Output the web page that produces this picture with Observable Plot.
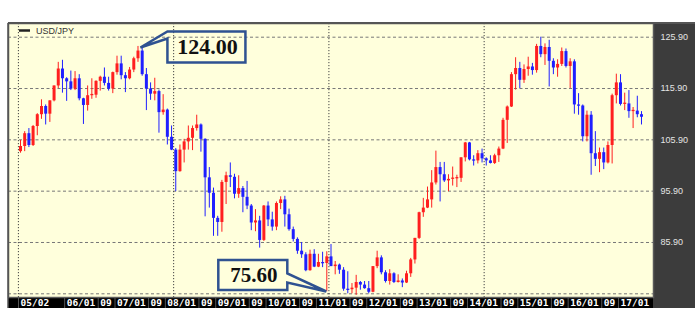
<!DOCTYPE html>
<html><head><meta charset="utf-8">
<script src="https://cdn.jsdelivr.net/npm/d3@7"></script>
<script src="https://cdn.jsdelivr.net/npm/@observablehq/plot@0.6"></script>
<style>
html,body{margin:0;padding:0;background:#fff;}
#chart{position:relative;width:700px;height:335px;}
</style></head><body><div id="chart"></div>
<script>
// Monthly USD/JPY candles, Feb 2005 (index 0) .. Jun 2017 (index 148)
const open = [
 103.6,104.6,107.1,104.8,108.5,110.8,112.4,110.9,113.5,116.4,119.7,
 117.8,117.2,115.8,117.8,113.9,112.6,114.5,114.6,117.3,118.1,116.9,115.8,
 119.0,120.7,118.4,117.8,119.5,121.7,123.2,118.6,115.8,114.8,115.3,111.2,
 111.7,106.4,103.9,99.7,103.9,105.5,106.2,108.1,108.8,106.0,98.5,95.5,
 90.6,89.8,97.6,98.9,98.6,95.3,96.4,94.7,93.0,89.7,90.1,86.3,
 93.0,90.3,88.9,93.5,94.2,91.3,88.4,86.5,84.2,83.5,80.4,83.6,
 81.1,82.0,81.8,83.1,81.2,81.5,80.5,76.8,76.7,77.0,78.1,77.6,
 76.9,76.2,81.2,82.9,80.0,78.3,79.8,78.1,78.4,78.0,79.8,82.5,
 86.7,91.7,92.6,94.2,97.5,100.5,99.1,97.9,98.2,98.3,98.4,102.4,
 105.3,102.0,101.8,103.2,102.2,101.8,101.3,102.8,104.1,109.7,112.3,118.6,
 119.8,117.5,119.6,120.1,119.4,124.1,122.5,123.9,121.2,119.9,120.6,123.1,
 120.2,121.1,112.7,112.5,106.5,110.7,103.2,102.1,103.4,101.4,104.8,114.5,
 117.0,112.8,112.9,111.4,111.5,110.8];
const high = [
 105.8,107.5,108.1,108.7,111.0,113.7,112.7,113.5,116.4,121.0,121.4,
 118.0,119.3,119.2,118.6,114.0,116.4,117.8,117.4,118.3,119.9,118.1,119.1,
 122.2,122.2,119.0,120.0,122.0,124.1,123.7,119.8,117.0,117.9,115.6,114.7,
 111.9,108.6,104.2,104.9,106.0,108.6,108.6,110.7,109.0,106.1,100.5,96.5,
 91.0,98.0,99.6,101.4,99.2,98.9,96.8,97.8,93.3,92.3,91.0,93.1,
 93.8,91.8,93.8,94.8,94.9,92.4,88.9,86.8,85.9,83.9,84.4,84.5,
 83.6,84.0,84.1,85.5,82.2,81.7,81.0,80.2,77.9,79.5,78.3,78.3,
 78.3,81.2,84.2,83.3,80.4,80.6,80.0,79.6,78.8,80.3,82.8,86.7,
 91.8,94.5,96.7,99.9,103.7,101.5,101.5,99.1,100.6,99.0,102.4,105.4,
 105.4,102.8,103.8,104.1,102.4,102.8,103.1,104.5,110.1,112.5,119.0,121.9,
 121.0,120.5,122.0,120.8,124.5,125.9,124.6,125.3,121.7,121.5,123.8,123.6,
 121.7,121.5,114.9,112.7,111.5,111.4,107.5,104.3,104.3,105.5,114.8,118.7,
 118.6,115.0,115.5,112.2,114.4,111.4];
const low = [
 103.3,103.6,104.4,104.6,106.7,109.9,108.8,109.3,113.3,115.9,115.0,
 113.4,115.5,115.5,113.5,108.9,111.5,113.8,114.0,115.4,116.4,115.4,114.9,
 118.5,117.6,115.1,117.6,119.0,121.0,118.3,111.6,113.6,113.5,107.2,110.7,
 104.9,103.8,95.8,99.6,101.4,103.9,103.8,107.6,103.5,90.9,92.6,87.1,
 87.1,87.9,93.3,96.6,94.4,94.5,91.7,92.3,88.2,88.0,84.8,86.1,
 89.0,88.1,88.2,92.3,88.9,88.1,86.0,83.6,82.8,80.2,80.3,81.0,
 81.0,81.0,76.3,81.2,79.6,79.7,76.4,75.9,75.9,75.6,76.6,76.8,
 75.9,76.1,80.8,79.6,78.0,77.6,77.9,78.0,77.1,77.9,79.1,81.7,
 86.5,90.8,92.5,92.6,97.1,93.8,97.6,95.8,96.9,96.6,97.6,101.6,
 101.8,100.8,101.2,101.4,100.8,101.2,101.1,101.5,104.0,105.2,112.2,115.6,
 115.9,116.9,118.3,118.5,118.9,121.9,120.4,116.2,118.6,118.1,120.2,119.9,
 115.9,110.9,110.7,105.5,105.5,99.0,100.7,99.5,100.1,101.2,101.2,112.9,
 112.5,111.6,110.1,108.1,110.2,108.8];
const close = [
 104.6,107.1,104.8,108.5,110.8,112.4,110.9,113.5,116.4,119.7,117.8,
 117.2,115.8,117.8,113.9,112.6,114.5,114.6,117.3,118.1,116.9,115.8,119.0,
 120.7,118.4,117.8,119.5,121.7,123.2,118.6,115.8,114.8,115.3,111.2,111.7,
 106.4,103.9,99.7,103.9,105.5,106.2,108.1,108.8,106.0,98.5,95.5,90.6,
 89.8,97.6,98.9,98.6,95.3,96.4,94.7,93.0,89.7,90.1,86.3,93.0,
 90.3,88.9,93.5,94.2,91.3,88.4,86.5,84.2,83.5,80.4,83.6,81.1,
 82.0,81.8,83.1,81.2,81.5,80.5,76.8,76.7,77.0,78.1,77.6,76.9,
 76.2,81.2,82.9,80.0,78.3,79.8,78.1,78.4,78.0,79.8,82.5,86.7,
 91.7,92.6,94.2,97.5,100.5,99.1,97.9,98.2,98.3,98.4,102.4,105.3,
 102.0,101.8,103.2,102.2,101.8,101.3,102.8,104.1,109.7,112.3,118.6,119.8,
 117.5,119.6,120.1,119.4,124.1,122.5,123.9,121.2,119.9,120.6,123.1,120.2,
 121.1,112.7,112.5,106.5,110.7,103.2,102.1,103.4,101.4,104.8,114.5,117.0,
 112.8,112.9,111.4,111.5,110.8,110.3];

const seriesName = "USD/JPY";
const yTicks = [125.9, 115.9, 105.9, 95.9, 85.9];
const yGrid = [125.9, 115.9, 105.9, 95.9, 85.9, 75.9];
const xTickMonths = [0, 11, 19, 23, 31, 35, 43, 47, 55, 59, 67, 71, 79, 83, 91, 95, 103, 107, 115, 119, 127, 131, 139, 143];
const xTickLabels = ["05/02","06/01","09","07/01","09","08/01","09","09/01","09","10/01","09","11/01","09","12/01","09","13/01","09","14/01","09","15/01","09","16/01","09","17/01"];
const xGrid = [-0.5, 36.5, 73.5, 110.5];
const callouts = [
  {m: 28.7, v: 123.8, label: "124.00", box: [27, 105, -16, 15], wedge: [-16, -9], side: "left", size: 22},
  {m: 73, v: 76.25, label: "75.60", box: [-108, -39, -31.5, -1.5], wedge: [-18, -9], side: "right", size: 21}
];

const W = 700, H = 335, ML = 8, MR = 47, MT = 23, MB = 38;
const RED = "#ff1f1f", BLUE = "#1f1fff";

const data = open.map((o, i) => ({m: i, open: o, high: high[i], low: low[i], close: close[i]}));
const isUp = d => d.close >= d.open;
const bodyEnd = d => Math.abs(d.close - d.open) < 0.25 ? d.open + (isUp(d) ? 0.25 : -0.25) : d.close;

const plot = Plot.plot({
  width: W, height: H,
  marginLeft: ML, marginRight: MR, marginTop: MT, marginBottom: MB,
  style: {fontFamily: "Liberation Sans, Arial, sans-serif", background: "transparent"},
  x: {type: "linear", domain: [-2.86, 150.86], axis: null},
  y: {domain: [75.18, 128.57], axis: null},
  marks: [
    Plot.frame({fill: "#ffffdc", stroke: null}),
    Plot.ruleY(yGrid, {stroke: "#777", strokeDasharray: "3,2.5", strokeWidth: 1}),
    Plot.ruleX(xGrid, {stroke: "#444", strokeDasharray: "1.2,1.8", strokeWidth: 1}),
    Plot.ruleX(data, {filter: isUp, x: "m", y1: "low", y2: "high", stroke: RED, strokeWidth: 1}),
    Plot.ruleX(data, {filter: d => !isUp(d), x: "m", y1: "low", y2: "high", stroke: BLUE, strokeWidth: 1}),
    Plot.ruleX(data, {filter: isUp, x: "m", y1: "open", y2: bodyEnd, stroke: RED, strokeWidth: 3}),
    Plot.ruleX(data, {filter: d => !isUp(d), x: "m", y1: "open", y2: bodyEnd, stroke: BLUE, strokeWidth: 3}),
    Plot.axisY({anchor: "right", ticks: yTicks, tickFormat: d => d.toFixed(2), tickSize: 0, tickPadding: 7,
      fill: "#e4e4e4", fontSize: 9, label: null}),
    Plot.axisX({anchor: "bottom", ticks: xTickMonths, tickSize: 11, stroke: "#555", dx: -2,
      tickFormat: () => "", label: null}),
    Plot.axisX({anchor: "bottom", ticks: xTickMonths, tickFormat: d => xTickLabels[xTickMonths.indexOf(d)],
      tickSize: 0, tickPadding: 2, textAnchor: "start", fill: "#fff", fontSize: 9.5, fontWeight: "bold",
      fontFamily: "DejaVu Sans Mono, monospace", label: null}),
    Plot.frame({stroke: "#5a5a5a", strokeWidth: 1.5, fill: null})
  ]
});

const svg = d3.select(plot);
const R = W - MR, B = H - MB, panelR = 695, stripB = 308;
// dark right panel & black date strip (behind everything)
svg.insert("rect", ":first-child").attr("x", ML).attr("y", B).attr("width", R - ML).attr("height", stripB - B).attr("fill", "#000");
svg.insert("rect", ":first-child").attr("x", R).attr("y", MT).attr("width", panelR - R).attr("height", stripB - MT).attr("fill", "#3c3c3c");
svg.append("line").attr("x1", ML).attr("x2", panelR).attr("y1", MT).attr("y2", MT).attr("stroke", "#555").attr("stroke-width", 2);
svg.append("line").attr("x1", ML).attr("x2", ML).attr("y1", MT).attr("y2", stripB).attr("stroke", "#555").attr("stroke-width", 1.5);

// legend
svg.append("line").attr("x1", ML + 11).attr("x2", ML + 22).attr("y1", MT + 7.5).attr("y2", MT + 7.5).attr("stroke", "#222").attr("stroke-width", 2.5);
svg.append("text").attr("x", ML + 28).attr("y", MT + 7.5).attr("dy", "0.35em").attr("font-size", 9)
  .attr("text-anchor", "start")
  .attr("font-family", "Liberation Sans, Arial, sans-serif").attr("fill", "#333").text(seriesName);

// callouts
const xs = plot.scale("x"), ys = plot.scale("y");
callouts.forEach(c => {
  const tx = xs.apply(c.m), ty = ys.apply(c.v);
  const [a1, a2, b1, b2] = c.box;
  const x1 = tx + a1, x2 = tx + a2, y1 = ty + b1, y2 = ty + b2;
  const w0 = ty + c.wedge[0], w1 = ty + c.wedge[1];
  let p;
  if (c.side === "left") {
    p = `M${x1},${y1}L${x2},${y1}L${x2},${y2}L${x1},${y2}L${x1},${w1}L${tx},${ty}L${x1},${w0}Z`;
  } else {
    p = `M${x1},${y1}L${x2},${y1}L${x2},${w0}L${tx},${ty}L${x2},${w1}L${x2},${y2}L${x1},${y2}Z`;
  }
  svg.append("path").attr("d", p).attr("fill", "none").attr("stroke", "#2f5291").attr("stroke-width", 2.5).attr("stroke-linejoin", "miter");
  svg.append("text").attr("x", (x1 + x2) / 2 + 1).attr("y", (y1 + y2) / 2 + 0.33 * c.size)
    .attr("text-anchor", "middle").attr("font-family", "Liberation Serif, Times New Roman, serif")
    .attr("font-weight", "bold").attr("font-size", c.size).attr("fill", "#111").text(c.label);
});

document.getElementById("chart").appendChild(plot);
</script></body></html>
